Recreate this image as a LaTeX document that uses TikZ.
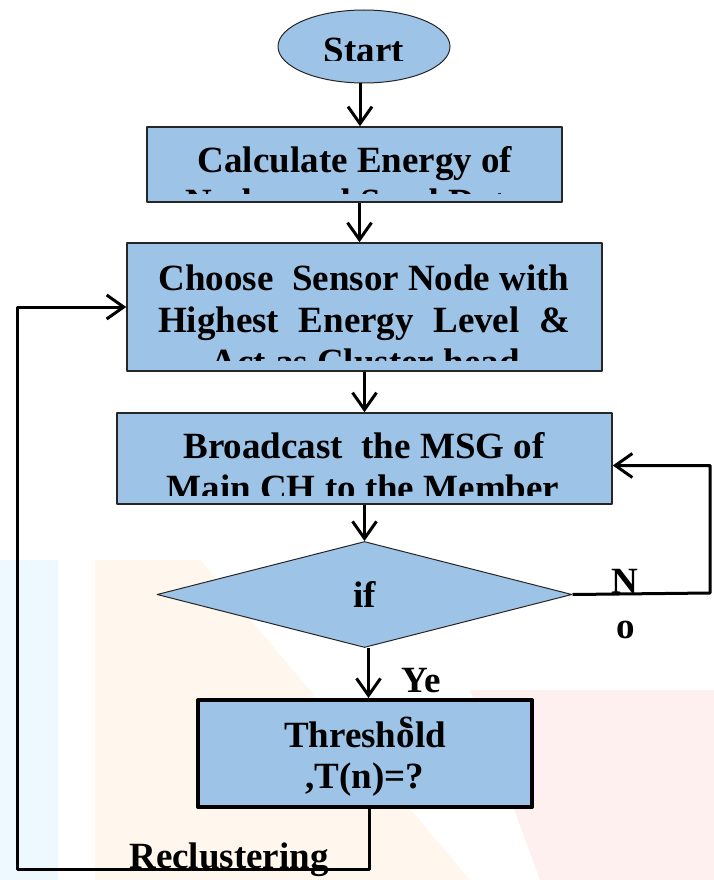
\documentclass[tikz,border=0pt]{standalone}
\usepackage{fontspec}
\setmainfont{Liberation Serif}
\usetikzlibrary{arrows.meta,positioning,calc,shapes}
\definecolor{boxblue}{RGB}{157,195,230}

\begin{document}
\begin{tikzpicture}[x=1pt, y=-1pt, line join=round,
  every node/.style={inner sep=0pt},
  lbl/.style={font=\fontsize{37}{42}\selectfont\bfseries, anchor=base},
  blk/.style={draw=black!85, fill=boxblue, line width=1.5pt},
  flow/.style={line width=3pt, -{Straight Barb[length=17pt,width=24pt,line width=3pt]}}]
\useasboundingbox (0,0) rectangle (714,880);
% faint watermark behind the chart
\fill[cyan!7] (0,560) rectangle (58,880);
\fill[orange!7] (95,560) -- (200,560) -- (470,880) -- (95,880) -- cycle;
\fill[red!6] (470,690) -- (714,690) -- (714,880) -- (540,880) -- cycle;
% shapes
\node[ellipse, blk, line width=1pt, minimum width=172pt, minimum height=73pt] (start) at (364,46.5) {};
\begin{scope}
\clip (270,10) rectangle (460,61);
\node[lbl] (startT) at (364,63) {Start};
\end{scope}
\node[rectangle, blk, minimum width=415pt, minimum height=75pt] (calc) at (354.5,164.5) {};
\begin{scope}
\clip (150,130) rectangle (560,193);
\node[lbl] (calcA) at (355,172) {Calculate Energy of};
\node[lbl] (calcB) at (355,214) {Nodes and Send Data};
\end{scope}
\node[rectangle, blk, minimum width=475pt, minimum height=128pt] (choose) at (364.5,307) {};
\begin{scope}
\clip (130,246) rectangle (600,360);
\node[lbl] (chooseA) at (364,290) {Choose\ \ Sensor Node with};
\node[lbl] (chooseB) at (364,332) {\makebox[412pt][s]{Highest Energy Level \&}};
\node[lbl] (chooseC) at (365,374) {Act as Cluster head};
\end{scope}
\node[rectangle, blk, minimum width=495pt, minimum height=91pt] (bcast) at (364.5,458.5) {};
\begin{scope}
\clip (120,416) rectangle (610,495);
\node[lbl] (bcastA) at (364,458) {Broadcast\ \ the MSG of};
\node[lbl] (bcastB) at (363,500) {Main CH to the Member};
\end{scope}
\node[diamond, blk, line width=1pt, minimum width=415pt, minimum height=106pt,
  font=\fontsize{37}{42}\selectfont\bfseries] (dec) at (364.5,594.5) {if};
\node[rectangle, blk, draw=black, line width=4pt, minimum width=334pt, minimum height=107pt] (thr) at (365,753.5) {};
\node[lbl] (thrA) at (365,747) {Threshold};
\node[lbl] (thrB) at (365,788) {,T(n)=?};
% connectors
\coordinate (noR) at (710,593);
\coordinate (reR) at (17,869);
\draw[flow] ([xshift=-4pt]start.south) -- ([xshift=-4pt]start.south |- calc.north);
\draw[flow] ([xshift=5pt]calc.south) -- ([xshift=5pt]calc.south |- choose.north);
\draw[flow] (choose.south) -- (choose.south |- bcast.north);
\draw[flow] (bcast.south) -- (bcast.south |- dec.north);
\draw[flow] ([xshift=4pt]dec.south) -- ([xshift=4pt]dec.south |- thr.north);
\draw[flow] (dec.east) -- (noR) |- ([yshift=-7pt]bcast.east);
\draw[flow] ([xshift=4pt]thr.south) |- (reR) |- (choose.west);
% branch labels
\node[lbl] (yesA) at (421,692) {Ye};
\begin{scope}
\clip (396,716) rectangle (418,727);
\node[lbl] (yesB) at (407,734) {s};
\end{scope}
\node[lbl] (noA) at (625,593) {N};
\node[lbl] (noB) at (626,638) {o};
\node[lbl] (reclT) at (229,868) {Reclustering};
\end{tikzpicture}
\end{document}
